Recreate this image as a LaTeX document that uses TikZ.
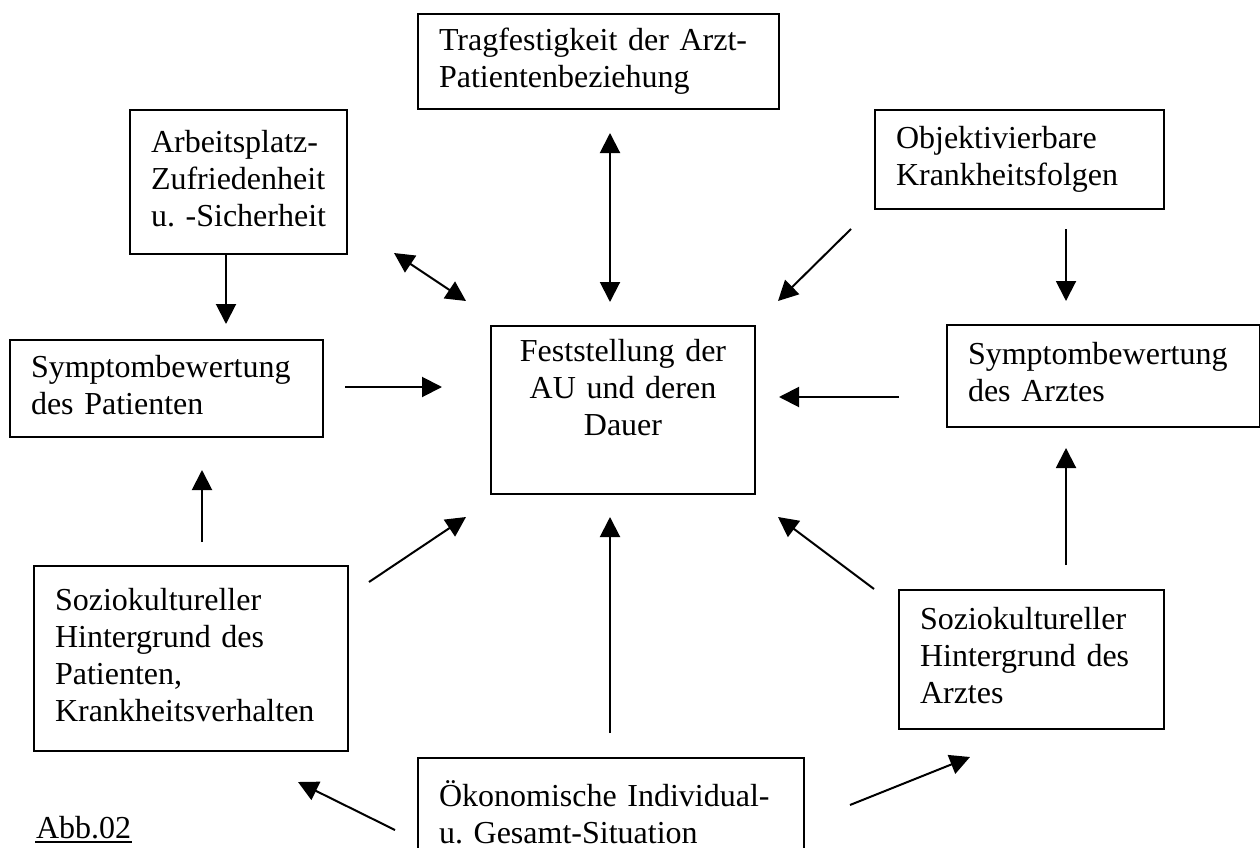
\documentclass[tikz,border=0pt]{standalone}
\usepackage{fontspec}
\setmainfont{Liberation Serif}
\usetikzlibrary{arrows.meta}
\frenchspacing
\hyphenpenalty=10000
\exhyphenpenalty=10000

\begin{document}
\begin{tikzpicture}[x=1pt,y=-1pt,>={Triangle[length=20pt,width=20pt]},line width=2pt,
    box/.style={draw,anchor=north west,inner xsep=21pt,inner ysep=0pt,align=left,font=\fontsize{32}{37}\selectfont,execute at begin node=\strut,execute at end node=\strut}]
    \useasboundingbox (0,0) rectangle (1260,848);
    \clip (0,0) rectangle (1260,848);

    \node[box,text width=319pt,minimum height=95pt] (trag) at (417,13) {Tragfestigkeit der Arzt-\\Patientenbeziehung};
    \node[box,text width=175pt,minimum height=144pt] (arbeit) at (129,109) {Arbeitsplatz-\\Zufriedenheit\\\mbox{u. -Sicherheit}};
    \node[box,text width=247pt,minimum height=99pt] (objektiv) at (874,109) {Objektivierbare\\Krankheitsfolgen};
    \node[box,text width=271pt,minimum height=97pt] (sympPat) at (9,339) {Symptombewertung\\des Patienten};
    \node[box,align=center,text width=222pt,minimum height=168pt] (au) at (490,325) {Feststellung der\\AU und deren\\Dauer\\};
    \node[box,text width=271pt,minimum height=102pt] (sympArzt) at (946,324) {Symptombewertung\\des Arztes};
    \node[box,text width=272pt,minimum height=185pt] (soziPat) at (33,565) {Soziokultureller\\Hintergrund des\\Patienten,\\Krankheitsverhalten};
    \node[box,text width=223pt,minimum height=139pt] (soziArzt) at (898,589) {Soziokultureller\\Hintergrund des\\Arztes};
    \node[box,text width=344pt,minimum height=119pt] (oekon) at (417,757) {Ökonomische Individual-\\u. Gesamt-Situation};
    \node[anchor=base west,inner sep=0pt,font=\fontsize{32}{37}\selectfont] (abb) at (35,838) {Abb.02};
    \draw ([yshift=-4pt]abb.base west) -- ([yshift=-4pt]abb.base east);

    % arrow ends
    \coordinate (t1) at (226,253);   \coordinate (h1) at (226,324);
    \coordinate (t2) at (394,253);   \coordinate (h2) at (466,301);
    \coordinate (t3) at (610,133);   \coordinate (h3) at (610,302);
    \coordinate (t4) at (851,229);   \coordinate (h4) at (778,301);
    \coordinate (t5) at (1066,229);  \coordinate (h5) at (1066,301);
    \coordinate (t6) at (345,387);   \coordinate (h6) at (442,387);
    \coordinate (t7) at (899,397);   \coordinate (h7) at (779,397);
    \coordinate (t8) at (202,542);   \coordinate (h8) at (202,470);
    \coordinate (t9) at (369,582);   \coordinate (h9) at (466,517);
    \coordinate (t10) at (874,589);  \coordinate (h10) at (778,517);
    \coordinate (t11) at (1066,565); \coordinate (h11) at (1066,448);
    \coordinate (t12) at (610,733);  \coordinate (h12) at (610,517);
    \coordinate (t13) at (395,830);  \coordinate (h13) at (298,782);
    \coordinate (t14) at (850,805);  \coordinate (h14) at (970,757);

    \path[->]
        (t1) edge (h1)
        (t2) edge[<->] (h2)
        (t3) edge[<->] (h3)
        (t4) edge (h4)
        (t5) edge (h5)
        (t6) edge (h6)
        (t7) edge (h7)
        (t8) edge (h8)
        (t9) edge (h9)
        (t10) edge (h10)
        (t11) edge (h11)
        (t12) edge (h12)
        (t13) edge (h13)
        (t14) edge (h14)
        ;
\end{tikzpicture}
\end{document}
